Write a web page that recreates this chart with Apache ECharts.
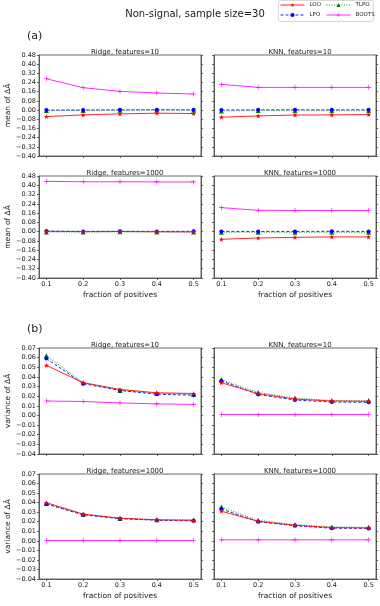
<!DOCTYPE html>
<html>
<head>
<meta charset="utf-8">
<script src="https://cdn.jsdelivr.net/npm/echarts@6/dist/echarts.min.js"></script>
<style>
  html, body { margin: 0; padding: 0; background: #fff; }
  #chart { width: 380px; height: 606px; }
</style>
</head>
<body>
<div id="chart"></div>
<script>
const fractions = [0.1, 0.2, 0.3, 0.4, 0.5]
const methods = ['LOO', 'LPO', 'TLPO', 'BOOTS']

// (a) mean of delta A-hat
const meanRidge10Loo = [-0.056, -0.042, -0.033, -0.027, -0.030]
const meanRidge10Lpo = [0.000, 0.001, 0.002, 0.003, 0.002]
const meanRidge10Tlpo = [-0.004, -0.003, -0.001, 0.000, -0.001]
const meanRidge10Boots = [0.273, 0.195, 0.163, 0.149, 0.140]

const meanKnn10Loo = [-0.062, -0.051, -0.043, -0.042, -0.039]
const meanKnn10Lpo = [0.001, 0.002, 0.003, 0.002, 0.003]
const meanKnn10Tlpo = [-0.007, -0.004, -0.005, -0.005, -0.006]
const meanKnn10Boots = [0.224, 0.198, 0.198, 0.198, 0.198]

const meanRidge1000Loo = [0.003, 0.000, 0.001, -0.001, -0.002]
const meanRidge1000Lpo = [0.005, 0.002, 0.003, 0.002, 0.003]
const meanRidge1000Tlpo = [-0.003, -0.004, -0.002, -0.003, -0.004]
const meanRidge1000Boots = [0.434, 0.430, 0.430, 0.429, 0.429]

const meanKnn1000Loo = [-0.066, -0.055, -0.049, -0.046, -0.046]
const meanKnn1000Lpo = [0.002, 0.002, 0.002, 0.003, 0.002]
const meanKnn1000Tlpo = [-0.005, -0.005, -0.006, -0.005, -0.006]
const meanKnn1000Boots = [0.207, 0.184, 0.183, 0.183, 0.183]

// (b) variance of delta A-hat
const varRidge10Loo = [0.052, 0.034, 0.027, 0.0235, 0.0228]
const varRidge10Lpo = [0.059, 0.033, 0.026, 0.022, 0.021]
const varRidge10Tlpo = [0.062, 0.034, 0.026, 0.023, 0.022]
const varRidge10Boots = [0.015, 0.0145, 0.013, 0.012, 0.0115]

const varKnn10Loo = [0.034, 0.0227, 0.017, 0.015, 0.0147]
const varKnn10Lpo = [0.036, 0.0217, 0.016, 0.014, 0.0136]
const varKnn10Tlpo = [0.037, 0.0238, 0.018, 0.0155, 0.0154]
const varKnn10Boots = [0.001, 0.001, 0.001, 0.001, 0.001]

const varRidge1000Loo = [0.040, 0.028, 0.0237, 0.022, 0.0215]
const varRidge1000Lpo = [0.0385, 0.0272, 0.0232, 0.0215, 0.021]
const varRidge1000Tlpo = [0.039, 0.0276, 0.0235, 0.022, 0.022]
const varRidge1000Boots = [0.0003, 0.0003, 0.0003, 0.0003, 0.0003]

const varKnn1000Loo = [0.031, 0.0205, 0.0163, 0.0139, 0.0135]
const varKnn1000Lpo = [0.0333, 0.020, 0.0158, 0.0132, 0.013]
const varKnn1000Tlpo = [0.0353, 0.0215, 0.017, 0.0145, 0.0143]
const varKnn1000Boots = [0.001, 0.001, 0.001, 0.001, 0.001]

const FONT = 'DejaVu Sans'
const INK = '#222'
const FRAME = '#444'

const panels = [
    { title: 'Ridge, features=10', left: 39, top: 55, height: 101, kind: 'mean', xlab: false, ylab: true,
      data: [meanRidge10Loo, meanRidge10Lpo, meanRidge10Tlpo, meanRidge10Boots] },
    { title: 'KNN, features=10', left: 214, top: 55, height: 101, kind: 'mean', xlab: false, ylab: false,
      data: [meanKnn10Loo, meanKnn10Lpo, meanKnn10Tlpo, meanKnn10Boots] },
    { title: 'Ridge, features=1000', left: 39, top: 176, height: 102, kind: 'mean', xlab: true, ylab: true,
      data: [meanRidge1000Loo, meanRidge1000Lpo, meanRidge1000Tlpo, meanRidge1000Boots] },
    { title: 'KNN, features=1000', left: 214, top: 176, height: 102, kind: 'mean', xlab: true, ylab: false,
      data: [meanKnn1000Loo, meanKnn1000Lpo, meanKnn1000Tlpo, meanKnn1000Boots] },
    { title: 'Ridge, features=10', left: 39, top: 348, height: 106, kind: 'var', xlab: false, ylab: true,
      data: [varRidge10Loo, varRidge10Lpo, varRidge10Tlpo, varRidge10Boots] },
    { title: 'KNN, features=10', left: 214, top: 348, height: 106, kind: 'var', xlab: false, ylab: false,
      data: [varKnn10Loo, varKnn10Lpo, varKnn10Tlpo, varKnn10Boots] },
    { title: 'Ridge, features=1000', left: 39, top: 474, height: 105, kind: 'var', xlab: true, ylab: true,
      data: [varRidge1000Loo, varRidge1000Lpo, varRidge1000Tlpo, varRidge1000Boots] },
    { title: 'KNN, features=1000', left: 214, top: 474, height: 105, kind: 'var', xlab: true, ylab: false,
      data: [varKnn1000Loo, varKnn1000Lpo, varKnn1000Tlpo, varKnn1000Boots] }
]
const PW = 162

const STAR = 'path://M5,0L6.2,3.6L10,3.6L7,5.9L8.1,9.5L5,7.3L1.9,9.5L3,5.9L0,3.6L3.8,3.6Z'
const PLUS = 'path://M4.4,0h1.2v10h-1.2zM0,4.4h10v1.2h-10z'

const styles = {
    LOO: { color: '#ff0000', type: 'solid', symbol: STAR, size: 5, z: 5 },
    LPO: { color: '#0000ff', type: [3, 2], symbol: 'circle', size: 4, z: 3 },
    TLPO: { color: '#008000', type: [1, 1.5], symbol: 'triangle', size: 5, z: 2 },
    BOOTS: { color: '#ff00ff', type: 'solid', symbol: PLUS, size: 5, z: 4 }
}

const fmt = v => v.toFixed(2).replace('-', '\u2212')

const grid = [], xAxis = [], yAxis = [], series = [], title = []

title.push({
    text: 'Non-signal, sample size=30', left: 190, top: 4, textAlign: 'center',
    textStyle: { fontFamily: FONT, fontSize: 10, fontWeight: 'normal', color: INK }
})
title.push({
    text: '(a)', left: 22, top: 26,
    textStyle: { fontFamily: FONT, fontSize: 11, fontWeight: 'normal', color: INK }
})
title.push({
    text: '(b)', left: 22, top: 319,
    textStyle: { fontFamily: FONT, fontSize: 11, fontWeight: 'normal', color: INK }
})

panels.forEach((p, i) => {
    grid.push({
        left: p.left, top: p.top, width: PW, height: p.height,
        show: true, borderColor: FRAME, borderWidth: 0.8, backgroundColor: 'transparent'
    })
    title.push({
        text: p.title, left: p.left + PW / 2, top: p.top - 11, textAlign: 'center',
        textStyle: { fontFamily: FONT, fontSize: 7, fontWeight: 'normal', color: INK }
    })
    xAxis.push({
        type: 'value', gridIndex: i, min: 0.08, max: 0.52,
        splitLine: { show: false },
        axisLine: { show: true, onZero: false, lineStyle: { color: FRAME, width: 0.8 } },
        axisTick: { show: true, length: 2, customValues: fractions, lineStyle: { color: FRAME, width: 0.8 } },
        axisLabel: {
            show: p.xlab, customValues: fractions, margin: 3,
            fontFamily: FONT, fontSize: 6.5, color: INK, formatter: v => v.toFixed(1)
        },
        name: p.xlab ? 'fraction of positives' : '',
        nameLocation: 'middle', nameGap: 13,
        nameTextStyle: { fontFamily: FONT, fontSize: 7.5, color: INK }
    })
    const yr = p.kind === 'mean'
        ? { min: -0.40, max: 0.48, interval: 0.08 }
        : { min: -0.04, max: 0.07, interval: 0.01 }
    yAxis.push(Object.assign({
        type: 'value', gridIndex: i, position: 'left',
        splitLine: { show: false },
        axisLine: { show: true, lineStyle: { color: FRAME, width: 0.8 } },
        axisTick: { show: true, length: 2, lineStyle: { color: FRAME, width: 0.8 } },
        axisLabel: { show: p.ylab, margin: 3, fontFamily: FONT, fontSize: 6.5, color: INK, formatter: fmt },
        name: p.ylab ? (p.kind === 'mean' ? 'mean of \u0394\u00c2' : 'variance of \u0394\u00c2') : '',
        nameLocation: 'middle', nameGap: 25,
        nameTextStyle: { fontFamily: FONT, fontSize: 7.5, color: INK }
    }, yr))
    yAxis.push(Object.assign({
        type: 'value', gridIndex: i, position: 'right',
        splitLine: { show: false },
        axisLine: { show: true, lineStyle: { color: FRAME, width: 0.8 } },
        axisTick: { show: true, length: 2, lineStyle: { color: FRAME, width: 0.8 } },
        axisLabel: { show: false }
    }, yr))

    methods.forEach((m, k) => {
        const s = styles[m]
        series.push({
            name: m, type: 'line', xAxisIndex: i, yAxisIndex: 2 * i, z: s.z,
            data: fractions.map((f, j) => [f, p.data[k][j]]),
            symbol: s.symbol, symbolSize: s.size, showAllSymbol: true,
            lineStyle: { color: s.color, width: 1, type: s.type, opacity: 0.85 },
            itemStyle: { color: s.color },
            animation: false
        })
    })
})

const legendText = { fontFamily: FONT, fontSize: 5.5, color: INK }
const legendBase = {
    orient: 'vertical', top: 2, itemWidth: 24, itemHeight: 5, itemGap: 4, padding: 0,
    textStyle: legendText, selectedMode: false,
    lineStyle: { width: 1 }, itemStyle: { borderWidth: 0 }
}
const legend = [
    Object.assign({ data: ['LOO', 'LPO'], left: 280 }, legendBase),
    Object.assign({ data: ['TLPO', 'BOOTS'], left: 326 }, legendBase)
]

const chart = echarts.init(document.getElementById('chart'), null, { renderer: 'canvas' })
chart.setOption({
    animation: false,
    backgroundColor: '#fff',
    title, legend, grid, xAxis, yAxis, series,
    graphic: [{
        type: 'rect', left: 278, top: 0, z: 0,
        shape: { width: 95, height: 21, r: 2 },
        style: { fill: '#fff', stroke: '#ccc', lineWidth: 0.8 }
    }]
})
</script>
</body>
</html>
